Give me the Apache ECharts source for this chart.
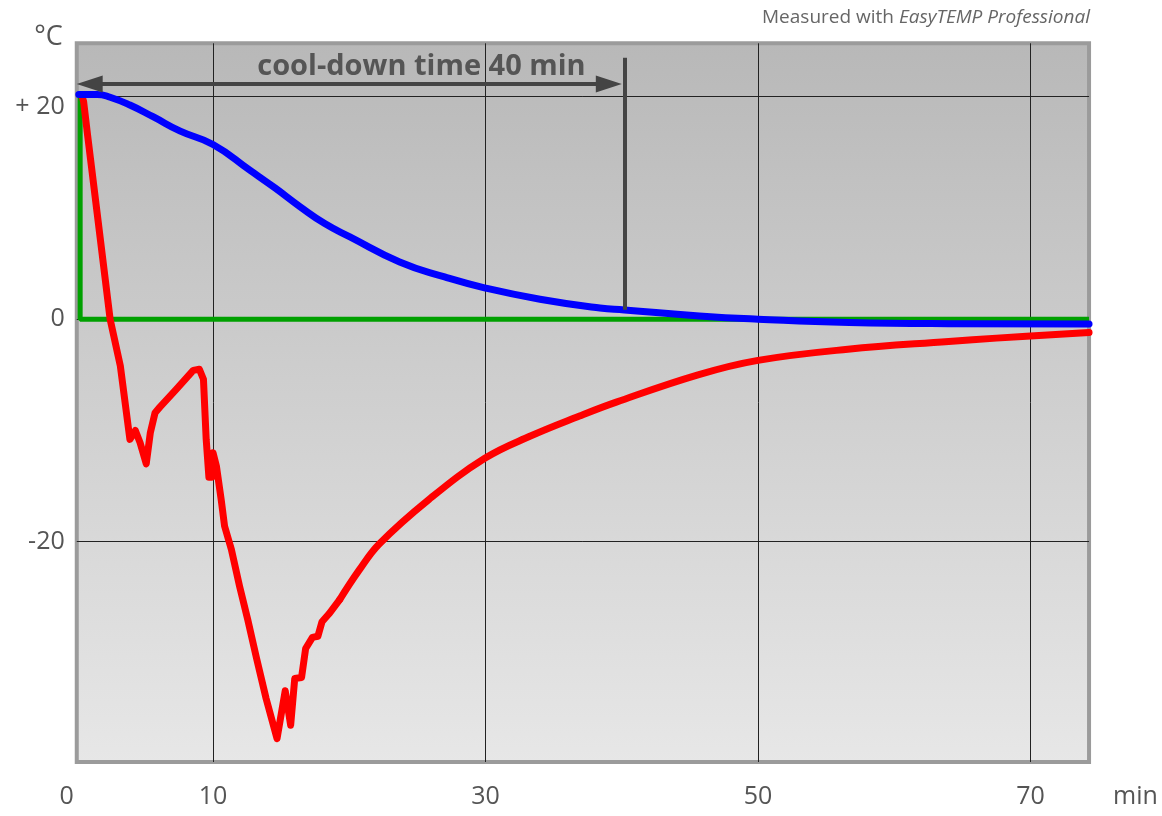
<!DOCTYPE html>
<html>
<head>
<meta charset="utf-8">
<script src="https://cdn.jsdelivr.net/npm/echarts@6/dist/echarts.min.js"></script>
<style>
  html, body { margin: 0; padding: 0; background: #fff; }
  #chart { width: 1162px; height: 816px; }
</style>
</head>
<body>
<div id="chart"></div>
<script>
// time in min, temperature in °C
const greenTime = [0.25, 0.25, 74.3]
const greenTemp = [20.2, 0, 0]

const blueTime = [0.15, 1.5, 2.45, 3.9, 5.6, 7.6, 10.0, 12.7, 14.55, 16.4, 18.2, 20.05, 23.7, 27.0, 30.0, 34.0, 38.4, 40.2, 45.7, 50.0, 56.7, 64.0, 74.3]
const blueTemp = [20.2, 20.2, 19.95, 19.25, 18.2, 16.9, 15.7, 13.4, 11.8, 10.1, 8.6, 7.4, 5.15, 3.8, 2.8, 1.8, 1.0, 0.83, 0.29, 0.0, -0.3, -0.4, -0.42]

// red probe: sharp part first, smooth recovery after redSplit
const redTime = [0.35, 0.5, 0.8, 1.5, 2.45, 3.2, 3.9, 4.3, 4.65, 5.1, 5.4, 5.75, 6.1, 7.3, 8.55, 9.0, 9.3, 9.5, 9.7, 9.9, 10.0, 10.25, 10.6, 10.85, 11.35, 11.95, 12.55, 13.2, 13.9, 14.7, 15.3, 15.7, 16.0, 16.5, 16.8, 17.3, 17.7, 18.0, 18.5, 19.3, 20.7, 22.2, 25.85, 29.95, 33.3, 36.9, 39.6, 45.6, 50.0, 56.6, 64.0, 67.5, 74.3]
const redTemp = [20.2, 19.6, 16.5, 9.5, 0, -4.2, -10.8, -10.0, -11.1, -13.0, -10.2, -8.4, -7.9, -6.3, -4.6, -4.5, -5.4, -10.8, -14.2, -14.2, -12.0, -13.2, -16.2, -18.6, -20.7, -24.0, -27.0, -30.5, -34.1, -37.7, -33.4, -36.5, -32.3, -32.2, -29.6, -28.6, -28.5, -27.2, -26.5, -25.2, -22.6, -20.2, -16.2, -12.5, -10.5, -8.7, -7.45, -5.0, -3.7, -2.7, -2.0, -1.7, -1.2]
const redSplit = 39

const xTickLabels = [0, 10, 30, 50, 70]
const xGridValues = [10, 30, 50, 70]
const yTickLabels = [-20, 0, 20]

// cool-down annotation
const coolDownMinutes = 40
const coolDownArrowTemp = 21.15
const coolDownLineTop = 23.5
const coolDownLineBottom = 0.85

const pairs = (xs, ys) => xs.map((x, i) => [x, ys[i]])
const redData = pairs(redTime, redTemp)

const font = '"Open Sans", "Noto Sans", sans-serif'
const chart = echarts.init(document.getElementById('chart'), null, { renderer: 'canvas' })

const redStyle = { color: '#ff0000', width: 7, join: 'round', cap: 'round' }

chart.setOption({
  animation: false,
  backgroundColor: '#fff',
  title: {
    text: '{a|Measured with }{b|EasyTEMP Professional}',
    right: 67,
    top: 3,
    textStyle: {
      rich: {
        a: { fontFamily: font, fontSize: 19, fontWeight: 'normal', color: '#666' },
        b: { fontFamily: font, fontSize: 19, fontWeight: 'normal', color: '#666', fontStyle: 'italic' }
      }
    }
  },
  grid: {
    left: 76.75,
    top: 43.3,
    width: 1012.3,
    height: 718.7,
    show: true,
    borderColor: '#9b9b9b',
    borderWidth: 4,
    backgroundColor: {
      type: 'linear', x: 0, y: 0, x2: 0, y2: 1,
      colorStops: [
        { offset: 0, color: '#b8b8b8' },
        { offset: 1, color: '#e7e7e7' }
      ]
    }
  },
  xAxis: {
    type: 'value',
    min: 0,
    max: 74.3,
    name: 'min',
    nameLocation: 'end',
    nameGap: 24,
    nameTextStyle: { fontFamily: font, fontSize: 25, color: '#555', verticalAlign: 'top', padding: [22, 0, 0, 0] },
    axisLine: { show: false, onZero: false },
    axisTick: { show: false, customValues: xGridValues },
    axisLabel: {
      customValues: xTickLabels,
      margin: 22,
      fontFamily: font,
      fontSize: 25,
      color: '#555',
      formatter: v => v === 0 ? '{z|0}' : String(v),
      rich: { z: { fontFamily: font, fontSize: 25, color: '#555', padding: [0, 20, 0, 0] } }
    },
    splitLine: { show: true, lineStyle: { color: '#222', width: 1 } }
  },
  yAxis: {
    type: 'value',
    min: -39.8,
    max: 24.8,
    name: '°C',
    nameLocation: 'end',
    nameGap: -8,
    nameTextStyle: { fontFamily: font, fontSize: 27, color: '#555', align: 'right', verticalAlign: 'bottom', padding: [0, 14, 0, 0] },
    axisLine: { show: false, onZero: false },
    axisTick: { show: false, customValues: yTickLabels },
    axisLabel: {
      customValues: yTickLabels,
      margin: 12,
      fontFamily: font,
      fontSize: 25,
      color: '#555',
      formatter: v => v > 0 ? '{p|+ ' + v + '}' : String(v),
      rich: { p: { fontFamily: font, fontSize: 25, color: '#555', padding: [20, 0, 0, 0] } }
    },
    splitLine: { show: true, lineStyle: { color: '#222', width: 1 } }
  },
  series: [
    {
      name: 'green',
      type: 'line',
      data: pairs(greenTime, greenTemp),
      showSymbol: false,
      silent: true,
      lineStyle: { color: '#00a000', width: 5 },
      markLine: {
        silent: true,
        animation: false,
        label: { show: false },
        lineStyle: { color: '#444', width: 4, type: 'solid' },
        data: [
          [
            { coord: [0.95, coolDownArrowTemp], symbol: 'triangle', symbolSize: [17, 26] },
            { coord: [coolDownMinutes - 0.95, coolDownArrowTemp], symbol: 'triangle', symbolSize: [17, 26] }
          ],
          [
            { coord: [coolDownMinutes + 0.2, coolDownLineTop], symbol: 'none' },
            { coord: [coolDownMinutes + 0.2, coolDownLineBottom], symbol: 'none' }
          ]
        ]
      },
      markPoint: {
        silent: true,
        symbolSize: 0,
        label: {
          show: true,
          position: 'inside',
          formatter: 'cool-down time ' + coolDownMinutes + ' min',
          fontFamily: font,
          fontSize: 29,
          fontWeight: 'bold',
          color: '#555'
        },
        data: [{ coord: [25.3, 22.7] }]
      }
    },
    {
      name: 'red',
      type: 'line',
      data: redData.slice(0, redSplit + 1),
      showSymbol: false,
      silent: true,
      lineStyle: redStyle
    },
    {
      name: 'red recovery',
      type: 'line',
      data: redData.slice(redSplit),
      smooth: 0.4,
      showSymbol: false,
      silent: true,
      lineStyle: redStyle
    },
    {
      name: 'blue',
      type: 'line',
      data: pairs(blueTime, blueTemp),
      smooth: 0.5,
      showSymbol: false,
      silent: true,
      lineStyle: { color: '#0000ff', width: 7, cap: 'round' }
    }
  ]
})
</script>
</body>
</html>
